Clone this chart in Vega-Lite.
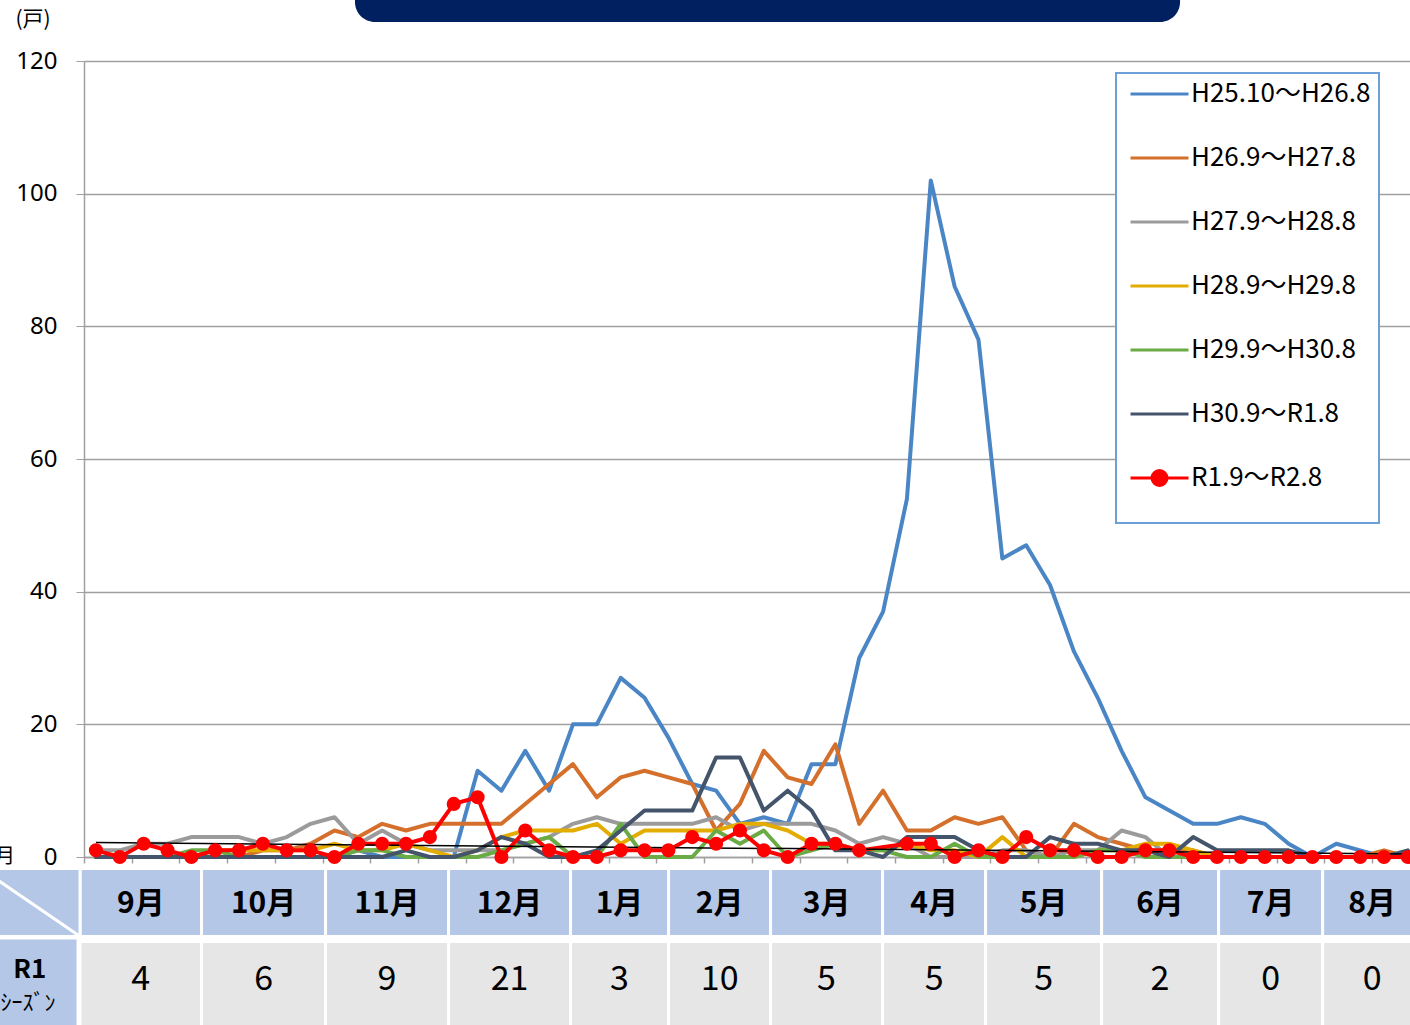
{
"$schema": "https://vega.github.io/schema/vega-lite/v6.json",
"width": 1326, "height": 796,
"autosize": {"type": "none"},
"padding": {"left": 84, "top": 61, "right": 0, "bottom": 168},
"background": "white",
"config": {"view": {"stroke": null}, "font": "Noto Sans CJK JP"},
"datasets": {
"weekly": [
{"season":"H25.10～H26.8","week":0,"count":0},{"season":"H25.10～H26.8","week":1,"count":0},{"season":"H25.10～H26.8","week":2,"count":0},{"season":"H25.10～H26.8","week":3,"count":0},{"season":"H25.10～H26.8","week":4,"count":0},{"season":"H25.10～H26.8","week":5,"count":0},{"season":"H25.10～H26.8","week":6,"count":0},{"season":"H25.10～H26.8","week":7,"count":0},{"season":"H25.10～H26.8","week":8,"count":0},{"season":"H25.10～H26.8","week":9,"count":0},{"season":"H25.10～H26.8","week":10,"count":0},{"season":"H25.10～H26.8","week":11,"count":1},{"season":"H25.10～H26.8","week":12,"count":0},{"season":"H25.10～H26.8","week":13,"count":0},{"season":"H25.10～H26.8","week":14,"count":0},{"season":"H25.10～H26.8","week":15,"count":0},
{"season":"H25.10～H26.8","week":16,"count":13},{"season":"H25.10～H26.8","week":17,"count":10},{"season":"H25.10～H26.8","week":18,"count":16},{"season":"H25.10～H26.8","week":19,"count":10},{"season":"H25.10～H26.8","week":20,"count":20},{"season":"H25.10～H26.8","week":21,"count":20},{"season":"H25.10～H26.8","week":22,"count":27},{"season":"H25.10～H26.8","week":23,"count":24},{"season":"H25.10～H26.8","week":24,"count":18},{"season":"H25.10～H26.8","week":25,"count":11},{"season":"H25.10～H26.8","week":26,"count":10},{"season":"H25.10～H26.8","week":27,"count":5},{"season":"H25.10～H26.8","week":28,"count":6},{"season":"H25.10～H26.8","week":29,"count":5},{"season":"H25.10～H26.8","week":30,"count":14},{"season":"H25.10～H26.8","week":31,"count":14},
{"season":"H25.10～H26.8","week":32,"count":30},{"season":"H25.10～H26.8","week":33,"count":37},{"season":"H25.10～H26.8","week":34,"count":54},{"season":"H25.10～H26.8","week":35,"count":102},{"season":"H25.10～H26.8","week":36,"count":86},{"season":"H25.10～H26.8","week":37,"count":78},{"season":"H25.10～H26.8","week":38,"count":45},{"season":"H25.10～H26.8","week":39,"count":47},{"season":"H25.10～H26.8","week":40,"count":41},{"season":"H25.10～H26.8","week":41,"count":31},{"season":"H25.10～H26.8","week":42,"count":24},{"season":"H25.10～H26.8","week":43,"count":16},{"season":"H25.10～H26.8","week":44,"count":9},{"season":"H25.10～H26.8","week":45,"count":7},{"season":"H25.10～H26.8","week":46,"count":5},{"season":"H25.10～H26.8","week":47,"count":5},
{"season":"H25.10～H26.8","week":48,"count":6},{"season":"H25.10～H26.8","week":49,"count":5},{"season":"H25.10～H26.8","week":50,"count":2},{"season":"H25.10～H26.8","week":51,"count":0},{"season":"H25.10～H26.8","week":52,"count":2},{"season":"H25.10～H26.8","week":53,"count":1},{"season":"H25.10～H26.8","week":54,"count":0},{"season":"H25.10～H26.8","week":55,"count":0},

{"season":"H26.9～H27.8","week":0,"count":0},{"season":"H26.9～H27.8","week":1,"count":0},{"season":"H26.9～H27.8","week":2,"count":0},{"season":"H26.9～H27.8","week":3,"count":0},{"season":"H26.9～H27.8","week":4,"count":0},{"season":"H26.9～H27.8","week":5,"count":0},{"season":"H26.9～H27.8","week":6,"count":0},{"season":"H26.9～H27.8","week":7,"count":1},{"season":"H26.9～H27.8","week":8,"count":1},{"season":"H26.9～H27.8","week":9,"count":2},{"season":"H26.9～H27.8","week":10,"count":4},{"season":"H26.9～H27.8","week":11,"count":3},{"season":"H26.9～H27.8","week":12,"count":5},{"season":"H26.9～H27.8","week":13,"count":4},{"season":"H26.9～H27.8","week":14,"count":5},{"season":"H26.9～H27.8","week":15,"count":5},
{"season":"H26.9～H27.8","week":16,"count":5},{"season":"H26.9～H27.8","week":17,"count":5},{"season":"H26.9～H27.8","week":18,"count":8},{"season":"H26.9～H27.8","week":19,"count":11},{"season":"H26.9～H27.8","week":20,"count":14},{"season":"H26.9～H27.8","week":21,"count":9},{"season":"H26.9～H27.8","week":22,"count":12},{"season":"H26.9～H27.8","week":23,"count":13},{"season":"H26.9～H27.8","week":24,"count":12},{"season":"H26.9～H27.8","week":25,"count":11},{"season":"H26.9～H27.8","week":26,"count":4},{"season":"H26.9～H27.8","week":27,"count":8},{"season":"H26.9～H27.8","week":28,"count":16},{"season":"H26.9～H27.8","week":29,"count":12},{"season":"H26.9～H27.8","week":30,"count":11},{"season":"H26.9～H27.8","week":31,"count":17},
{"season":"H26.9～H27.8","week":32,"count":5},{"season":"H26.9～H27.8","week":33,"count":10},{"season":"H26.9～H27.8","week":34,"count":4},{"season":"H26.9～H27.8","week":35,"count":4},{"season":"H26.9～H27.8","week":36,"count":6},{"season":"H26.9～H27.8","week":37,"count":5},{"season":"H26.9～H27.8","week":38,"count":6},{"season":"H26.9～H27.8","week":39,"count":1},{"season":"H26.9～H27.8","week":40,"count":0},{"season":"H26.9～H27.8","week":41,"count":5},{"season":"H26.9～H27.8","week":42,"count":3},{"season":"H26.9～H27.8","week":43,"count":2},{"season":"H26.9～H27.8","week":44,"count":1},{"season":"H26.9～H27.8","week":45,"count":1},{"season":"H26.9～H27.8","week":46,"count":1},{"season":"H26.9～H27.8","week":47,"count":0},
{"season":"H26.9～H27.8","week":48,"count":0},{"season":"H26.9～H27.8","week":49,"count":0},{"season":"H26.9～H27.8","week":50,"count":0},{"season":"H26.9～H27.8","week":51,"count":0},{"season":"H26.9～H27.8","week":52,"count":0},{"season":"H26.9～H27.8","week":53,"count":0},{"season":"H26.9～H27.8","week":54,"count":1},{"season":"H26.9～H27.8","week":55,"count":0},

{"season":"H27.9～H28.8","week":0,"count":1},{"season":"H27.9～H28.8","week":1,"count":1},{"season":"H27.9～H28.8","week":2,"count":2},{"season":"H27.9～H28.8","week":3,"count":2},{"season":"H27.9～H28.8","week":4,"count":3},{"season":"H27.9～H28.8","week":5,"count":3},{"season":"H27.9～H28.8","week":6,"count":3},{"season":"H27.9～H28.8","week":7,"count":2},{"season":"H27.9～H28.8","week":8,"count":3},{"season":"H27.9～H28.8","week":9,"count":5},{"season":"H27.9～H28.8","week":10,"count":6},{"season":"H27.9～H28.8","week":11,"count":2},{"season":"H27.9～H28.8","week":12,"count":4},{"season":"H27.9～H28.8","week":13,"count":2},{"season":"H27.9～H28.8","week":14,"count":1},{"season":"H27.9～H28.8","week":15,"count":1},
{"season":"H27.9～H28.8","week":16,"count":1},{"season":"H27.9～H28.8","week":17,"count":1},{"season":"H27.9～H28.8","week":18,"count":2},{"season":"H27.9～H28.8","week":19,"count":3},{"season":"H27.9～H28.8","week":20,"count":5},{"season":"H27.9～H28.8","week":21,"count":6},{"season":"H27.9～H28.8","week":22,"count":5},{"season":"H27.9～H28.8","week":23,"count":5},{"season":"H27.9～H28.8","week":24,"count":5},{"season":"H27.9～H28.8","week":25,"count":5},{"season":"H27.9～H28.8","week":26,"count":6},{"season":"H27.9～H28.8","week":27,"count":4},{"season":"H27.9～H28.8","week":28,"count":5},{"season":"H27.9～H28.8","week":29,"count":5},{"season":"H27.9～H28.8","week":30,"count":5},{"season":"H27.9～H28.8","week":31,"count":4},
{"season":"H27.9～H28.8","week":32,"count":2},{"season":"H27.9～H28.8","week":33,"count":3},{"season":"H27.9～H28.8","week":34,"count":2},{"season":"H27.9～H28.8","week":35,"count":0},{"season":"H27.9～H28.8","week":36,"count":0},{"season":"H27.9～H28.8","week":37,"count":0},{"season":"H27.9～H28.8","week":38,"count":1},{"season":"H27.9～H28.8","week":39,"count":1},{"season":"H27.9～H28.8","week":40,"count":0},{"season":"H27.9～H28.8","week":41,"count":1},{"season":"H27.9～H28.8","week":42,"count":1},{"season":"H27.9～H28.8","week":43,"count":4},{"season":"H27.9～H28.8","week":44,"count":3},{"season":"H27.9～H28.8","week":45,"count":0},{"season":"H27.9～H28.8","week":46,"count":0},{"season":"H27.9～H28.8","week":47,"count":0},
{"season":"H27.9～H28.8","week":48,"count":0},{"season":"H27.9～H28.8","week":49,"count":0},{"season":"H27.9～H28.8","week":50,"count":0},{"season":"H27.9～H28.8","week":51,"count":0},{"season":"H27.9～H28.8","week":52,"count":0},{"season":"H27.9～H28.8","week":53,"count":0},{"season":"H27.9～H28.8","week":54,"count":0},{"season":"H27.9～H28.8","week":55,"count":0},

{"season":"H28.9～H29.8","week":0,"count":0},{"season":"H28.9～H29.8","week":1,"count":0},{"season":"H28.9～H29.8","week":2,"count":0},{"season":"H28.9～H29.8","week":3,"count":0},{"season":"H28.9～H29.8","week":4,"count":0},{"season":"H28.9～H29.8","week":5,"count":1},{"season":"H28.9～H29.8","week":6,"count":1},{"season":"H28.9～H29.8","week":7,"count":1},{"season":"H28.9～H29.8","week":8,"count":1},{"season":"H28.9～H29.8","week":9,"count":1},{"season":"H28.9～H29.8","week":10,"count":2},{"season":"H28.9～H29.8","week":11,"count":1},{"season":"H28.9～H29.8","week":12,"count":1},{"season":"H28.9～H29.8","week":13,"count":2},{"season":"H28.9～H29.8","week":14,"count":1},{"season":"H28.9～H29.8","week":15,"count":0},
{"season":"H28.9～H29.8","week":16,"count":1},{"season":"H28.9～H29.8","week":17,"count":3},{"season":"H28.9～H29.8","week":18,"count":4},{"season":"H28.9～H29.8","week":19,"count":4},{"season":"H28.9～H29.8","week":20,"count":4},{"season":"H28.9～H29.8","week":21,"count":5},{"season":"H28.9～H29.8","week":22,"count":2},{"season":"H28.9～H29.8","week":23,"count":4},{"season":"H28.9～H29.8","week":24,"count":4},{"season":"H28.9～H29.8","week":25,"count":4},{"season":"H28.9～H29.8","week":26,"count":4},{"season":"H28.9～H29.8","week":27,"count":5},{"season":"H28.9～H29.8","week":28,"count":5},{"season":"H28.9～H29.8","week":29,"count":4},{"season":"H28.9～H29.8","week":30,"count":2},{"season":"H28.9～H29.8","week":31,"count":2},
{"season":"H28.9～H29.8","week":32,"count":1},{"season":"H28.9～H29.8","week":33,"count":1},{"season":"H28.9～H29.8","week":34,"count":2},{"season":"H28.9～H29.8","week":35,"count":1},{"season":"H28.9～H29.8","week":36,"count":1},{"season":"H28.9～H29.8","week":37,"count":0},{"season":"H28.9～H29.8","week":38,"count":3},{"season":"H28.9～H29.8","week":39,"count":0},{"season":"H28.9～H29.8","week":40,"count":0},{"season":"H28.9～H29.8","week":41,"count":0},{"season":"H28.9～H29.8","week":42,"count":1},{"season":"H28.9～H29.8","week":43,"count":1},{"season":"H28.9～H29.8","week":44,"count":2},{"season":"H28.9～H29.8","week":45,"count":2},{"season":"H28.9～H29.8","week":46,"count":1},{"season":"H28.9～H29.8","week":47,"count":0},
{"season":"H28.9～H29.8","week":48,"count":0},{"season":"H28.9～H29.8","week":49,"count":0},{"season":"H28.9～H29.8","week":50,"count":0},{"season":"H28.9～H29.8","week":51,"count":0},{"season":"H28.9～H29.8","week":52,"count":0},{"season":"H28.9～H29.8","week":53,"count":0},{"season":"H28.9～H29.8","week":54,"count":0},{"season":"H28.9～H29.8","week":55,"count":0},

{"season":"H29.9～H30.8","week":0,"count":0},{"season":"H29.9～H30.8","week":1,"count":0},{"season":"H29.9～H30.8","week":2,"count":0},{"season":"H29.9～H30.8","week":3,"count":0},{"season":"H29.9～H30.8","week":4,"count":1},{"season":"H29.9～H30.8","week":5,"count":1},{"season":"H29.9～H30.8","week":6,"count":0},{"season":"H29.9～H30.8","week":7,"count":0},{"season":"H29.9～H30.8","week":8,"count":0},{"season":"H29.9～H30.8","week":9,"count":0},{"season":"H29.9～H30.8","week":10,"count":0},{"season":"H29.9～H30.8","week":11,"count":1},{"season":"H29.9～H30.8","week":12,"count":1},{"season":"H29.9～H30.8","week":13,"count":0},{"season":"H29.9～H30.8","week":14,"count":0},{"season":"H29.9～H30.8","week":15,"count":0},
{"season":"H29.9～H30.8","week":16,"count":0},{"season":"H29.9～H30.8","week":17,"count":1},{"season":"H29.9～H30.8","week":18,"count":2},{"season":"H29.9～H30.8","week":19,"count":3},{"season":"H29.9～H30.8","week":20,"count":0},{"season":"H29.9～H30.8","week":21,"count":0},{"season":"H29.9～H30.8","week":22,"count":5},{"season":"H29.9～H30.8","week":23,"count":0},{"season":"H29.9～H30.8","week":24,"count":0},{"season":"H29.9～H30.8","week":25,"count":0},{"season":"H29.9～H30.8","week":26,"count":4},{"season":"H29.9～H30.8","week":27,"count":2},{"season":"H29.9～H30.8","week":28,"count":4},{"season":"H29.9～H30.8","week":29,"count":0},{"season":"H29.9～H30.8","week":30,"count":1},{"season":"H29.9～H30.8","week":31,"count":2},
{"season":"H29.9～H30.8","week":32,"count":1},{"season":"H29.9～H30.8","week":33,"count":1},{"season":"H29.9～H30.8","week":34,"count":0},{"season":"H29.9～H30.8","week":35,"count":0},{"season":"H29.9～H30.8","week":36,"count":2},{"season":"H29.9～H30.8","week":37,"count":0},{"season":"H29.9～H30.8","week":38,"count":0},{"season":"H29.9～H30.8","week":39,"count":0},{"season":"H29.9～H30.8","week":40,"count":0},{"season":"H29.9～H30.8","week":41,"count":0},{"season":"H29.9～H30.8","week":42,"count":1},{"season":"H29.9～H30.8","week":43,"count":1},{"season":"H29.9～H30.8","week":44,"count":0},{"season":"H29.9～H30.8","week":45,"count":0},{"season":"H29.9～H30.8","week":46,"count":0},{"season":"H29.9～H30.8","week":47,"count":0},
{"season":"H29.9～H30.8","week":48,"count":0},{"season":"H29.9～H30.8","week":49,"count":0},{"season":"H29.9～H30.8","week":50,"count":0},{"season":"H29.9～H30.8","week":51,"count":0},{"season":"H29.9～H30.8","week":52,"count":0},{"season":"H29.9～H30.8","week":53,"count":0},{"season":"H29.9～H30.8","week":54,"count":0},{"season":"H29.9～H30.8","week":55,"count":0},

{"season":"H30.9～R1.8","week":0,"count":0},{"season":"H30.9～R1.8","week":1,"count":0},{"season":"H30.9～R1.8","week":2,"count":0},{"season":"H30.9～R1.8","week":3,"count":0},{"season":"H30.9～R1.8","week":4,"count":0},{"season":"H30.9～R1.8","week":5,"count":0},{"season":"H30.9～R1.8","week":6,"count":0},{"season":"H30.9～R1.8","week":7,"count":0},{"season":"H30.9～R1.8","week":8,"count":0},{"season":"H30.9～R1.8","week":9,"count":0},{"season":"H30.9～R1.8","week":10,"count":0},{"season":"H30.9～R1.8","week":11,"count":0},{"season":"H30.9～R1.8","week":12,"count":0},{"season":"H30.9～R1.8","week":13,"count":1},{"season":"H30.9～R1.8","week":14,"count":0},{"season":"H30.9～R1.8","week":15,"count":0},
{"season":"H30.9～R1.8","week":16,"count":1},{"season":"H30.9～R1.8","week":17,"count":3},{"season":"H30.9～R1.8","week":18,"count":2},{"season":"H30.9～R1.8","week":19,"count":0},{"season":"H30.9～R1.8","week":20,"count":0},{"season":"H30.9～R1.8","week":21,"count":1},{"season":"H30.9～R1.8","week":22,"count":4},{"season":"H30.9～R1.8","week":23,"count":7},{"season":"H30.9～R1.8","week":24,"count":7},{"season":"H30.9～R1.8","week":25,"count":7},{"season":"H30.9～R1.8","week":26,"count":15},{"season":"H30.9～R1.8","week":27,"count":15},{"season":"H30.9～R1.8","week":28,"count":7},{"season":"H30.9～R1.8","week":29,"count":10},{"season":"H30.9～R1.8","week":30,"count":7},{"season":"H30.9～R1.8","week":31,"count":1},
{"season":"H30.9～R1.8","week":32,"count":1},{"season":"H30.9～R1.8","week":33,"count":0},{"season":"H30.9～R1.8","week":34,"count":3},{"season":"H30.9～R1.8","week":35,"count":3},{"season":"H30.9～R1.8","week":36,"count":3},{"season":"H30.9～R1.8","week":37,"count":1},{"season":"H30.9～R1.8","week":38,"count":0},{"season":"H30.9～R1.8","week":39,"count":0},{"season":"H30.9～R1.8","week":40,"count":3},{"season":"H30.9～R1.8","week":41,"count":2},{"season":"H30.9～R1.8","week":42,"count":2},{"season":"H30.9～R1.8","week":43,"count":1},{"season":"H30.9～R1.8","week":44,"count":1},{"season":"H30.9～R1.8","week":45,"count":0},{"season":"H30.9～R1.8","week":46,"count":3},{"season":"H30.9～R1.8","week":47,"count":1},
{"season":"H30.9～R1.8","week":48,"count":1},{"season":"H30.9～R1.8","week":49,"count":1},{"season":"H30.9～R1.8","week":50,"count":1},{"season":"H30.9～R1.8","week":51,"count":0},{"season":"H30.9～R1.8","week":52,"count":0},{"season":"H30.9～R1.8","week":53,"count":0},{"season":"H30.9～R1.8","week":54,"count":0},{"season":"H30.9～R1.8","week":55,"count":1},

{"season":"R1.9～R2.8","week":0,"count":1},{"season":"R1.9～R2.8","week":1,"count":0},{"season":"R1.9～R2.8","week":2,"count":2},{"season":"R1.9～R2.8","week":3,"count":1},{"season":"R1.9～R2.8","week":4,"count":0},{"season":"R1.9～R2.8","week":5,"count":1},{"season":"R1.9～R2.8","week":6,"count":1},{"season":"R1.9～R2.8","week":7,"count":2},{"season":"R1.9～R2.8","week":8,"count":1},{"season":"R1.9～R2.8","week":9,"count":1},{"season":"R1.9～R2.8","week":10,"count":0},{"season":"R1.9～R2.8","week":11,"count":2},{"season":"R1.9～R2.8","week":12,"count":2},{"season":"R1.9～R2.8","week":13,"count":2},{"season":"R1.9～R2.8","week":14,"count":3},{"season":"R1.9～R2.8","week":15,"count":8},
{"season":"R1.9～R2.8","week":16,"count":9},{"season":"R1.9～R2.8","week":17,"count":0},{"season":"R1.9～R2.8","week":18,"count":4},{"season":"R1.9～R2.8","week":19,"count":1},{"season":"R1.9～R2.8","week":20,"count":0},{"season":"R1.9～R2.8","week":21,"count":0},{"season":"R1.9～R2.8","week":22,"count":1},{"season":"R1.9～R2.8","week":23,"count":1},{"season":"R1.9～R2.8","week":24,"count":1},{"season":"R1.9～R2.8","week":25,"count":3},{"season":"R1.9～R2.8","week":26,"count":2},{"season":"R1.9～R2.8","week":27,"count":4},{"season":"R1.9～R2.8","week":28,"count":1},{"season":"R1.9～R2.8","week":29,"count":0},{"season":"R1.9～R2.8","week":30,"count":2},{"season":"R1.9～R2.8","week":31,"count":2},
{"season":"R1.9～R2.8","week":32,"count":1},{"season":"R1.9～R2.8","week":34,"count":2},{"season":"R1.9～R2.8","week":35,"count":2},{"season":"R1.9～R2.8","week":36,"count":0},{"season":"R1.9～R2.8","week":37,"count":1},{"season":"R1.9～R2.8","week":38,"count":0},{"season":"R1.9～R2.8","week":39,"count":3},{"season":"R1.9～R2.8","week":40,"count":1},{"season":"R1.9～R2.8","week":41,"count":1},{"season":"R1.9～R2.8","week":42,"count":0},{"season":"R1.9～R2.8","week":43,"count":0},{"season":"R1.9～R2.8","week":44,"count":1},{"season":"R1.9～R2.8","week":45,"count":1},{"season":"R1.9～R2.8","week":46,"count":0},{"season":"R1.9～R2.8","week":47,"count":0},
{"season":"R1.9～R2.8","week":48,"count":0},{"season":"R1.9～R2.8","week":49,"count":0},{"season":"R1.9～R2.8","week":50,"count":0},{"season":"R1.9～R2.8","week":51,"count":0},{"season":"R1.9～R2.8","week":52,"count":0},{"season":"R1.9～R2.8","week":53,"count":0},{"season":"R1.9～R2.8","week":54,"count":0},{"season":"R1.9～R2.8","week":55,"count":0}
],
"trend": [{"week": 0, "count": 2.17}, {"week": 55, "count": 0.46}],
"months": [
{"month":"9月","count":4,"from":-0.668,"to":4.427,"mid":1.88},
{"month":"10月","count":6,"from":4.427,"to":9.626,"mid":7.03},
{"month":"11月","count":9,"from":9.626,"to":14.783,"mid":12.2},
{"month":"12月","count":21,"from":14.783,"to":19.898,"mid":17.34},
{"month":"1月","count":3,"from":19.898,"to":24.007,"mid":21.95},
{"month":"2月","count":10,"from":24.007,"to":28.284,"mid":26.15},
{"month":"3月","count":5,"from":28.284,"to":32.979,"mid":30.63},
{"month":"4月","count":5,"from":32.979,"to":37.298,"mid":35.14},
{"month":"5月","count":5,"from":37.298,"to":42.162,"mid":39.73},
{"month":"6月","count":2,"from":42.162,"to":47.067,"mid":44.61},
{"month":"7月","count":0,"from":47.067,"to":51.428,"mid":49.25},
{"month":"8月","count":0,"from":51.428,"to":55.6,"mid":53.5}
]
},
"layer": [
{
"data": {"values": [{"label": "banner"}]},
"mark": {"type": "rect", "color": "#002060", "cornerRadiusBottomLeft": 20, "cornerRadiusBottomRight": 20},
"encoding": {
"x": {"datum": 10.86, "type": "quantitative", "scale": {"domain": [-0.5, 55.09], "nice": false, "zero": false}},
"x2": {"datum": 45.45},
"y": {"datum": 125.88, "type": "quantitative", "scale": {"domain": [0, 120], "nice": false, "zero": false}},
"y2": {"datum": 140}
}
},
{
"data": {"name": "months"},
"mark": {"type": "rect", "fill": "#b4c7e7", "stroke": "white", "strokeWidth": 3},
"encoding": {
"x": {"field": "from", "type": "quantitative", "scale": {"domain": [-0.5, 55.09], "nice": false, "zero": false}},
"x2": {"field": "to"},
"y": {"datum": -1.734, "type": "quantitative", "scale": {"domain": [0, 120], "nice": false, "zero": false}},
"y2": {"datum": -11.986}
}
},
{
"data": {"name": "months"},
"mark": {"type": "rect", "fill": "#e6e6e6", "stroke": "white", "strokeWidth": 3},
"encoding": {
"x": {"field": "from", "type": "quantitative", "scale": {"domain": [-0.5, 55.09], "nice": false, "zero": false}},
"x2": {"field": "to"},
"y": {"datum": -12.739, "type": "quantitative", "scale": {"domain": [0, 120], "nice": false, "zero": false}},
"y2": {"datum": -26.08}
}
},
{
"data": {"values": [{"label": "corner"}]},
"mark": {"type": "rect", "fill": "#b4c7e7", "stroke": "white", "strokeWidth": 3},
"encoding": {
"x": {"datum": -5.5, "type": "quantitative", "scale": {"domain": [-0.5, 55.09], "nice": false, "zero": false}},
"x2": {"datum": -0.668},
"y": {"datum": -1.734, "type": "quantitative", "scale": {"domain": [0, 120], "nice": false, "zero": false}},
"y2": {"datum": -11.986}
}
},
{
"data": {"values": [{"label": "R1"}]},
"mark": {"type": "rect", "fill": "#b4c7e7", "stroke": "white", "strokeWidth": 3},
"encoding": {
"x": {"datum": -5.5, "type": "quantitative", "scale": {"domain": [-0.5, 55.09], "nice": false, "zero": false}},
"x2": {"datum": -0.75},
"y": {"datum": -12.2, "type": "quantitative", "scale": {"domain": [0, 120], "nice": false, "zero": false}},
"y2": {"datum": -26.08}
}
},
{
"data": {"values": [{"label": "diagonal"}]},
"mark": {"type": "rule", "color": "white", "strokeWidth": 3},
"encoding": {
"x": {"datum": -4.735, "type": "quantitative", "scale": {"domain": [-0.5, 55.09], "nice": false, "zero": false}},
"x2": {"datum": -0.752},
"y": {"datum": -1.96, "type": "quantitative", "scale": {"domain": [0, 120], "nice": false, "zero": false}},
"y2": {"datum": -11.76}
}
},
{
"data": {"name": "months"},
"mark": {"type": "text", "fontSize": 30, "fontWeight": "bold", "color": "black", "baseline": "middle", "align": "center"},
"encoding": {
"x": {"field": "mid", "type": "quantitative", "scale": {"domain": [-0.5, 55.09], "nice": false, "zero": false}},
"y": {"datum": -7.086, "type": "quantitative", "scale": {"domain": [0, 120], "nice": false, "zero": false}},
"text": {"field": "month"}
}
},
{
"data": {"name": "months"},
"mark": {"type": "text", "fontSize": 34, "color": "black", "baseline": "middle", "align": "center"},
"encoding": {
"x": {"field": "mid", "type": "quantitative", "scale": {"domain": [-0.5, 55.09], "nice": false, "zero": false}},
"y": {"datum": -18.54, "type": "quantitative", "scale": {"domain": [0, 120], "nice": false, "zero": false}},
"text": {"field": "count"}
}
},
{
"data": {"values": [{"label": "R1"}]},
"mark": {"type": "text", "fontSize": 26, "fontWeight": "bold", "color": "black", "baseline": "middle", "align": "center"},
"encoding": {
"x": {"datum": -2.77, "type": "quantitative", "scale": {"domain": [-0.5, 55.09], "nice": false, "zero": false}},
"y": {"datum": -17.04, "type": "quantitative", "scale": {"domain": [0, 120], "nice": false, "zero": false}},
"text": {"field": "label"}
}
},
{
"data": {"values": [{"label": "ｼｰｽﾞﾝ"}]},
"mark": {"type": "text", "fontSize": 22, "color": "black", "baseline": "middle", "align": "center"},
"encoding": {
"x": {"datum": -2.85, "type": "quantitative", "scale": {"domain": [-0.5, 55.09], "nice": false, "zero": false}},
"y": {"datum": -22.01, "type": "quantitative", "scale": {"domain": [0, 120], "nice": false, "zero": false}},
"text": {"field": "label"}
}
},
{
"data": {"values": [{"label": "月"}]},
"mark": {"type": "text", "fontSize": 20, "color": "black", "baseline": "middle", "align": "center"},
"encoding": {
"x": {"datum": -3.81, "type": "quantitative", "scale": {"domain": [-0.5, 55.09], "nice": false, "zero": false}},
"y": {"datum": 0, "type": "quantitative", "scale": {"domain": [0, 120], "nice": false, "zero": false}},
"text": {"field": "label"}
}
},
{
"data": {"name": "weekly"},
"mark": {"type": "line", "strokeWidth": 4, "strokeJoin": "round", "strokeCap": "round"},
"encoding": {
"x": {"field": "week", "type": "quantitative", "scale": {"domain": [-0.5, 55.09], "nice": false, "zero": false},
"axis": {"values": [-0.5,0.5,1.5,2.5,3.5,4.5,5.5,6.5,7.5,8.5,9.5,10.5,11.5,12.5,13.5,14.5,15.5,16.5,17.5,18.5,19.5,20.5,21.5,22.5,23.5,24.5,25.5,26.5,27.5,28.5,29.5,30.5,31.5,32.5,33.5,34.5,35.5,36.5,37.5,38.5,39.5,40.5,41.5,42.5,43.5,44.5,45.5,46.5,47.5,48.5,49.5,50.5,51.5,52.5,53.5,54.5],
"labels": false, "title": null, "grid": false, "tickSize": 6, "tickColor": "#a0a0a0", "domainColor": "#a0a0a0", "tickWidth": 1.5, "domainWidth": 1.5}},
"y": {"field": "count", "type": "quantitative", "scale": {"domain": [0, 120], "nice": false, "zero": false},
"axis": {"values": [0,20,40,60,80,100,120], "title": "(戸)", "titleAngle": 0, "titleX": -69, "titleY": -42, "titleAlign": "left", "titleBaseline": "middle", "titleFontSize": 21, "titleFontWeight": "normal", "titleColor": "black", "titleFont": "Noto Sans CJK JP",
"grid": true, "gridColor": "#a0a0a0", "gridWidth": 1.3, "domainColor": "#a0a0a0", "domainWidth": 1.5, "tickColor": "#a0a0a0", "tickSize": 8, "labelPadding": 19, "labelFontSize": 24, "labelColor": "black", "labelFont": "Noto Sans"}},
"color": {"field": "season", "type": "nominal",
"scale": {"domain": ["H25.10～H26.8","H26.9～H27.8","H27.9～H28.8","H28.9～H29.8","H29.9～H30.8","H30.9～R1.8","R1.9～R2.8"],
"range": ["#4a86c5","#d4702b","#9b9b9b","#e3ac00","#6aab45","#44546a","#ff0000"]},
"legend": {"orient": "none", "legendX": 1032, "legendY": 12, "direction": "vertical",
"title": " ", "titleOrient": "bottom", "titleFontSize": 24, "titlePadding": 0,
"strokeColor": "#6d9fd8", "fillColor": "white", "padding": 8,
"labelFontSize": 26, "labelFont": "Noto Sans CJK JP", "labelColor": "black", "labelOffset": -2, "labelLimit": 400,
"symbolType": "M-0.848,0H0.909", "symbolSize": 4356, "symbolStrokeWidth": 3, "rowPadding": 38, "clipHeight": 26,
"encode": {
"legend": {"update": {"strokeWidth": {"value": 2}}},
"symbols": {"update": {
"shape": {"signal": "datum.value === 'R1.9～R2.8' ? 'M-0.848,0H0.909M-0.197,0A0.227,0.227,0,1,1,0.257,0A0.227,0.227,0,1,1,-0.197,0Z' : 'M-0.848,0H0.909'"},
"fill": {"signal": "datum.value === 'R1.9～R2.8' ? '#ff0000' : 'transparent'"}
}}}}
}
}
},
{
"data": {"name": "trend"},
"mark": {"type": "line", "color": "black", "strokeWidth": 1.5},
"encoding": {
"x": {"field": "week", "type": "quantitative", "scale": {"domain": [-0.5, 55.09], "nice": false, "zero": false}},
"y": {"field": "count", "type": "quantitative", "scale": {"domain": [0, 120], "nice": false, "zero": false}}
}
},
{
"data": {"name": "weekly"},
"transform": [{"filter": "datum.season === 'R1.9～R2.8'"}],
"mark": {"type": "point", "filled": true, "size": 200, "color": "#ff0000", "opacity": 1},
"encoding": {
"x": {"field": "week", "type": "quantitative", "scale": {"domain": [-0.5, 55.09], "nice": false, "zero": false}},
"y": {"field": "count", "type": "quantitative", "scale": {"domain": [0, 120], "nice": false, "zero": false}}
}
}
]
}
